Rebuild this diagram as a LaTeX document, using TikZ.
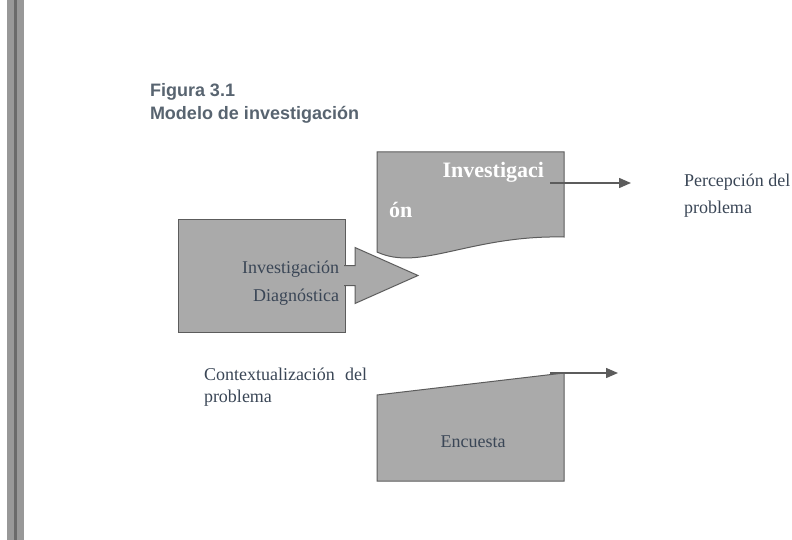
\documentclass[tikz,border=0pt]{standalone}
\usepackage{fontspec}
\setmainfont{Liberation Serif}
\setsansfont{Liberation Sans}
\usetikzlibrary{arrows.meta}
\definecolor{grisfondo}{RGB}{170,170,170}
\definecolor{grisborde}{RGB}{92,92,92}
\definecolor{grisbarra}{RGB}{152,152,152}
\definecolor{titulo}{RGB}{88,100,112}
\definecolor{texto}{RGB}{58,70,86}

\begin{document}
\begin{tikzpicture}[x=1pt, y=-1pt, line join=miter, every node/.style={inner sep=0pt, outer sep=0pt},
	forma/.style={draw=grisborde, fill=grisfondo, line width=1pt},
	rotulo/.style={font=\fontsize{18}{20}\selectfont, text=texto},
	tit/.style={font=\sffamily\bfseries\fontsize{18}{20}\selectfont, text=titulo},
	flecha/.style={draw=grisborde, line width=1.4pt, -{Triangle[length=12pt, width=10pt]}}]
	
	\useasboundingbox (0,0) rectangle (792,540);
	
	% Barra lateral
	\fill[grisbarra] (7,0) rectangle (24,540);
	\fill[grisbarra!70!black] (14,0) rectangle (17,540);
	
	% Título
	\node[tit, anchor=base west] (fig) at (150,97) {Figura 3.1};
	\node[tit, anchor=base west] (modelo) at (150,120) {Modelo de investigación};
	
	% Investigación diagnóstica
	\node[forma, minimum width=167pt, minimum height=113pt, anchor=north west] (diag) at (178,219) {};
	\draw[forma] (diag.east) ++(-1,-10) -- ++(11,0) -- ++(0,-18) -- ++(63,28) -- ++(-63,28) -- ++(0,-18) -- ++(-11,0);
	\node[rotulo, anchor=base east] (diag1) at (339,273) {Investigación};
	\node[rotulo, anchor=base east] (diag2) at (339,301) {Diagnóstica};
	
	% Investigación (documento)
	\draw[forma] (377,152) -- (564,152) -- (564,237) .. controls (470,235) and (420,272) .. (377,252) -- cycle;
	\node[font=\bfseries\fontsize{22}{24}\selectfont, text=white, anchor=base east] (inv1) at (544,178) {Investigaci};
	\node[font=\bfseries\fontsize{22}{24}\selectfont, text=white, anchor=base west] (inv2) at (389,217) {ón};
	\coordinate (invsal) at (550,183);
	\coordinate (invfin) at (631,183);
	\draw[flecha] (invsal) -- (invfin);
	
	\node[rotulo, anchor=base west] (perc1) at (684,187) {Percepción del};
	\node[rotulo, anchor=base west] (perc2) at (684,214) {problema};
	
	% Contextualización
	\node[rotulo, anchor=base west, text width=163pt] (cont1) at (204,380) {Contextualización\hfill del};
	\node[rotulo, anchor=base west] (cont2) at (204,402) {problema};
	
	% Encuesta
	\draw[forma] (377,395) -- (564,373) -- (564,481) -- (377,481) -- cycle;
	\node[rotulo, anchor=base] (enc) at (473,447) {Encuesta};
	\coordinate (encsal) at (550,373);
	\coordinate (encfin) at (618,373);
	\draw[flecha] (encsal) -- (encfin);
	
\end{tikzpicture}
\end{document}
